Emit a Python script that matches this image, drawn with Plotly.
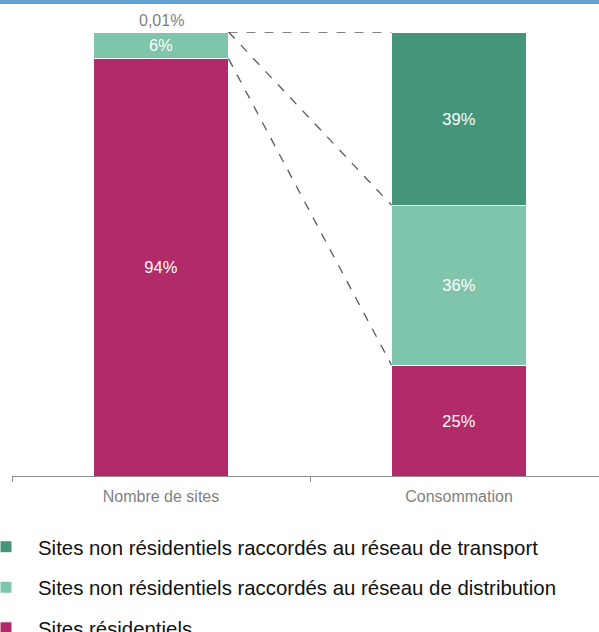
import plotly.graph_objects as go

# Répartition des sites et de la consommation par type de site
categories = ["Nombre de sites", "Consommation"]
residentiel = [94, 25]
distribution = [6, 36]
transport = [0.01, 39]

series_names = [
    "Sites résidentiels",
    "Sites non résidentiels raccordés au réseau de distribution",
    "Sites non résidentiels raccordés au réseau de transport",
]
series_values = [residentiel, distribution, transport]
series_colors = ["#B12A69", "#7FC5AB", "#44957A"]
legend_ranks = [3, 2, 1]

W, H = 599, 632
M_L, M_T, M_B = 12, 32, 156
plot_w = W - M_L
plot_h = H - M_T - M_B
BAR_W = 0.453
x_max = 0.5 + (W - 310) / 298.0
NARROW = "Liberation Sans Narrow, Arial Narrow, Liberation Sans, sans-serif"

fig = go.Figure()
for i, (name, vals, col, rank) in enumerate(zip(series_names, series_values, series_colors, legend_ranks)):
    labels = [f"{v:g}%".replace(".", ",") if v >= 1 else "" for v in vals]
    fig.add_trace(go.Bar(
        x=categories, y=vals, name=name, width=BAR_W,
        marker=dict(color=col, line=dict(color="white", width=1)),
        text=labels, textposition="inside", insidetextanchor="middle",
        textfont=dict(color="white", size=16.5, family=NARROW),
        legendgroup=f"g{i}", legendrank=rank, hoverinfo="skip",
    ))

top_sites = sum(v[0] for v in series_values)
top_cons = sum(v[1] for v in series_values)
y_top = max(top_sites, top_cons)

# tiny share shown above the first bar
fig.add_annotation(
    x=categories[0], y=top_sites, xref="x", yref="y",
    text=f"{transport[0]:g}%".replace(".", ","),
    showarrow=False, yanchor="bottom", yshift=1,
    font=dict(size=16, color="#7F7F7F", family=NARROW),
)

# dashed connectors from the non-residential share of sites to consumption
x_left = 0 + BAR_W / 2
x_right = 1 - BAR_W / 2
connectors = [
    (top_sites, top_cons),
    (top_sites, residentiel[1] + distribution[1]),
    (residentiel[0], residentiel[1]),
]
for y0, y1 in connectors:
    fig.add_shape(type="line", xref="x", yref="y", x0=x_left, x1=x_right, y0=y0, y1=y1,
                  line=dict(color="#5A5A5A", width=1.3, dash="dash"))

# blue header band
fig.add_shape(type="rect", xref="paper", yref="paper",
              x0=-M_L / plot_w, x1=1, y0=1 + (M_T - 4) / plot_h, y1=1 + (M_T + 5) / plot_h,
              fillcolor="#63A2D3", line=dict(width=0), layer="above")

fig.update_layout(
    width=W, height=H,
    margin=dict(l=M_L, r=0, t=M_T, b=M_B, autoexpand=False),
    barmode="stack",
    plot_bgcolor="white", paper_bgcolor="white",
    showlegend=True,
    legend=dict(
        traceorder="grouped", tracegroupgap=11,
        x=-(M_L + 26) / plot_w, xanchor="left",
        y=(476 - 527) / plot_h, yanchor="top",
        itemwidth=54,
        font=dict(size=20.4, color="#111111", family="Liberation Sans, Arial, sans-serif"),
        bgcolor="rgba(0,0,0,0)",
    ),
    xaxis=dict(
        type="category", range=[-0.5, x_max],
        showline=True, linecolor="#8C8C8C", linewidth=1,
        ticks="outside", tickson="boundaries", ticklen=5, tickcolor="#8C8C8C",
        ticklabelstandoff=6,
        tickfont=dict(size=16, color="#7F7F7F", family=NARROW),
        showgrid=False,
    ),
    yaxis=dict(range=[0, y_top], visible=False, showgrid=False),
)

fig.write_html("out.html")
